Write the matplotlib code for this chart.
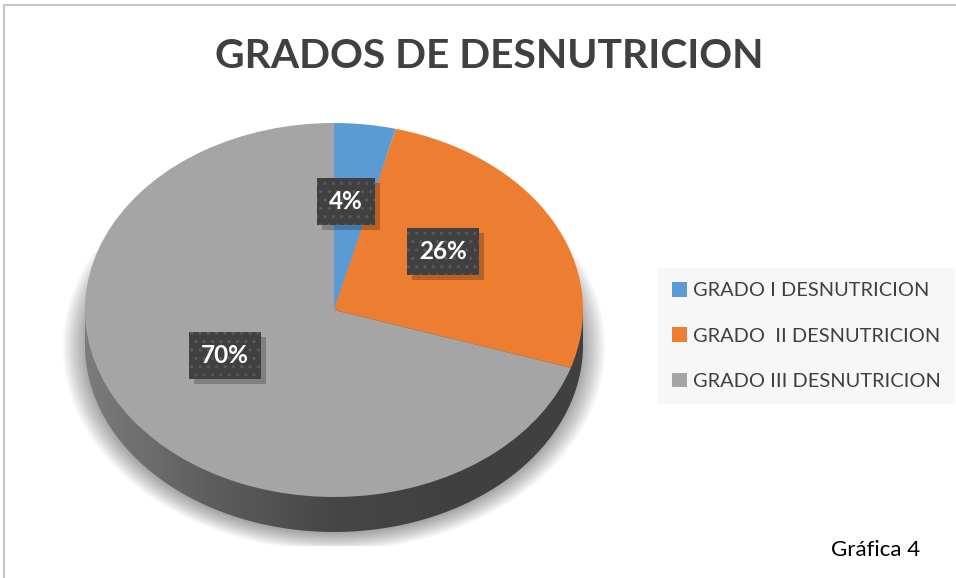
import numpy as np
import matplotlib
matplotlib.use("Agg")
import matplotlib.pyplot as plt
import matplotlib.transforms as mtransforms
from matplotlib.patches import Polygon, Ellipse, Rectangle
from matplotlib.colors import LinearSegmentedColormap

plt.rcParams['font.family'] = ['Lato', 'DejaVu Sans']
plt.rcParams['hatch.linewidth'] = 1.2

# data
labels = ['GRADO I DESNUTRICION', 'GRADO  II DESNUTRICION', 'GRADO III DESNUTRICION']
values = [4, 26, 70]
colors = ['#5B9BD5', '#ED7D31', '#A5A5A5']

W, H = 956, 578
# pie geometry in pixels (top face), and side depth
CX, CY, RX, RY = 334, 310, 249, 187
D = 35 / RY

fig = plt.figure(figsize=(W / 100, H / 100), dpi=100)
ax = fig.add_axes([0, 0, 1, 1])

wedges, texts, autotexts = ax.pie(values, colors=colors, startangle=90, counterclock=False,
                                  autopct='%1.0f%%', pctdistance=0.52,
                                  wedgeprops=dict(linewidth=0))
for w in wedges:
    w.set_zorder(5)

# 3D side of the pie
t = np.linspace(np.pi, 2 * np.pi, 300)
side_pts = np.column_stack([np.cos(t), np.sin(t) - D])
side_pts = np.vstack([side_pts, [[1, 0], [-1, 0]]])
side = Polygon(side_pts, closed=True, fc='none', ec='none')
ax.add_patch(side)
cmap = LinearSegmentedColormap.from_list('side', ['#7c7c7c', '#5e5e5e', '#464646', '#404040', '#404040'])
grad = np.linspace(0, 1, 256).reshape(1, -1)
im = ax.imshow(grad, cmap=cmap, extent=(-1, 1, -1 - D, 0), aspect='auto', zorder=3)
im.set_clip_path(side)

# soft shadow around the pie
clip = Rectangle((-2, (CY - 546) / RY), 4, 3, transform=ax.transData, fc='none', ec='none')
ax.add_patch(clip)
for e in np.linspace(0.09, 0.0, 16):
    sh = Ellipse((0, -D - 0.01), 2 * (1 + e), 2 * (1 + e), fc='black', ec='none', alpha=0.022, zorder=2)
    ax.add_patch(sh)
    sh.set_clip_path(clip)

# data labels (lifted a little to follow the perspective of the 3D pie)
lift = mtransforms.offset_copy(ax.transData, fig=fig, x=-4, y=12, units='dots')
for txt in autotexts:
    txt.set(color='white', fontweight='bold', fontsize=17.5, zorder=10, transform=lift)
    txt.set_bbox(dict(boxstyle='square,pad=0.5', fc='#404040', ec='#575757', lw=0, hatch='..'))

ax.set_xlim((0 - CX) / RX, (W - CX) / RX)
ax.set_ylim((CY - H) / RY, CY / RY)
ax.set_aspect('auto')
ax.axis('off')

# drop shadows behind the label boxes
fig.canvas.draw()
for txt in autotexts:
    bb = txt.get_bbox_patch().get_window_extent()
    ax.add_patch(Rectangle((bb.x0 + 5, bb.y0 - 5), bb.width, bb.height, transform=None,
                           fc='black', ec='none', alpha=0.22, zorder=9))

fig.text(489 / W, 1 - 57 / H, 'GRADOS DE DESNUTRICION', ha='center', va='center',
         fontsize=29.3, fontweight='bold', color='#404040')

leg = fig.legend(wedges, labels, loc='upper left', bbox_to_anchor=(658 / W, 1 - 268 / H),
                 frameon=True, fancybox=False, facecolor='#f7f7f7', edgecolor='none', framealpha=1,
                 fontsize=14.4, labelcolor='#404040', handlelength=0.75, handleheight=0.75,
                 handletextpad=0.3, labelspacing=1.4, borderpad=0.7, borderaxespad=0)

fig.text(876 / W, 1 - 550 / H, 'Gráfica 4', ha='center', va='center', fontsize=16, color='black')

fig.patches.append(Rectangle((4 / W, -0.05), 1.1, 1 - 5 / H + 0.05, transform=fig.transFigure,
                             fill=False, ec='#c6c6c6', lw=1.5))

fig.savefig('out.png', dpi=100)
